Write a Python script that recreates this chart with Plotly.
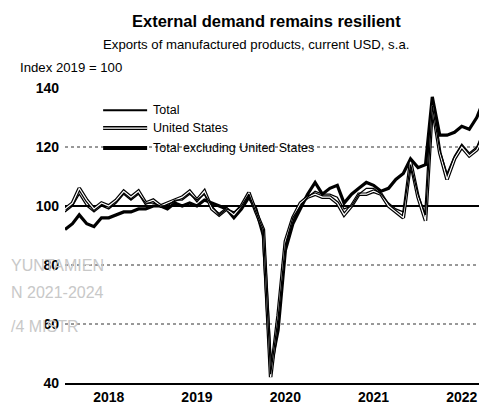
import plotly.graph_objs as go
import pandas as pd

# monthly, Jan 2018 - Oct 2022, index 2019 = 100
months = pd.date_range('2018-01-01', '2022-10-01', freq='MS')

total = [98, 100, 104, 100, 98, 100, 99, 101, 104, 102, 104, 101,
         101, 100, 100, 102, 102, 104, 102, 104, 100, 97, 99, 98,
         100, 104, 98, 92, 43, 62, 87, 96, 100, 103, 105, 104,
         104, 103, 99, 100, 104, 106, 106, 104, 101, 99, 98, 114,
         104, 97, 134, 119, 111, 117, 121, 118, 120, 126]

united_states = [99, 101, 106, 102, 99, 101, 100, 102, 105, 103, 105, 101,
                 102, 100, 101, 102, 103, 105, 102, 105, 99, 97, 99, 97,
                 100, 104.5, 98, 92, 42, 63, 88, 96, 101, 103, 104, 103,
                 103, 101, 97, 100, 104, 104, 105, 104, 100, 98, 96, 115,
                 103, 95, 134, 118, 109, 116, 120, 117, 119, 124]

total_ex_us = [92, 94, 97, 94, 93, 96, 96, 97, 98, 98, 99, 99,
               100, 100, 99, 101, 100, 101, 100, 102, 101, 100, 99, 96,
               99, 103, 99, 90, 45, 58, 85, 94, 99, 104, 108, 104,
               106, 107, 101, 104, 106, 108, 107, 105, 106, 109, 111, 116,
               113, 114, 137, 124, 124, 125, 127, 126, 130, 136]

year_ticks = ['2018-07-01', '2019-07-01', '2020-07-01', '2021-07-01', '2022-07-01']
year_labels = ['2018', '2019', '2020', '2021', '2022']
y_ticks = [40, 60, 80, 100, 120, 140]

legend_names = ['Total', 'United States', 'Total excluding United States']

FONT = 'Liberation Sans, Arial, sans-serif'

fig = go.Figure()
fig.add_trace(go.Scatter(x=months, y=total_ex_us, mode='lines',
                         line=dict(color='black', width=3.2),
                         name=legend_names[2], showlegend=False))
# double line look for the US series
fig.add_trace(go.Scatter(x=months, y=united_states, mode='lines',
                         line=dict(color='black', width=3.6),
                         name=legend_names[1], showlegend=False))
fig.add_trace(go.Scatter(x=months, y=united_states, mode='lines',
                         line=dict(color='white', width=1.2),
                         hoverinfo='skip', showlegend=False))
fig.add_trace(go.Scatter(x=months, y=total, mode='lines',
                         line=dict(color='black', width=1.3),
                         name=legend_names[0], showlegend=False))

shapes = []
# dotted grid
for v in [60, 80, 120]:
    shapes.append(dict(type='line', xref='paper', yref='y', x0=0, x1=1, y0=v, y1=v,
                       line=dict(color='#333', width=1, dash='dot'), layer='below'))
# reference line at 100
shapes.append(dict(type='line', xref='paper', yref='y', x0=0, x1=1, y0=100, y1=100,
                   line=dict(color='black', width=2.2), layer='below'))

# hand drawn legend
ly = [0.925, 0.864, 0.797]
lx0, lx1 = 0.091, 0.196
shapes.append(dict(type='line', xref='paper', yref='paper', x0=lx0, x1=lx1,
                   y0=ly[0], y1=ly[0], line=dict(color='black', width=2)))
shapes.append(dict(type='line', xref='paper', yref='paper', x0=lx0, x1=lx1,
                   y0=ly[1], y1=ly[1], line=dict(color='black', width=4)))
shapes.append(dict(type='line', xref='paper', yref='paper', x0=lx0, x1=lx1,
                   y0=ly[1], y1=ly[1], line=dict(color='white', width=1.2)))
shapes.append(dict(type='line', xref='paper', yref='paper', x0=lx0, x1=lx1,
                   y0=ly[2], y1=ly[2], line=dict(color='black', width=4)))

annotations = []
for name, y in zip(legend_names, ly):
    annotations.append(dict(text=name, xref='paper', yref='paper', x=0.206, y=y,
                            xanchor='left', yanchor='middle', showarrow=False,
                            font=dict(family=FONT, size=12.5, color='black')))

annotations += [
    dict(text='<b>External demand remains resilient</b>', xref='paper', yref='paper',
         x=0.48, y=1.227, xanchor='center', yanchor='middle', showarrow=False,
         font=dict(family=FONT, size=16.5, color='black')),
    dict(text='Exports of manufactured products, current USD, s.a.', xref='paper', yref='paper',
         x=0.455, y=1.146, xanchor='center', yanchor='middle', showarrow=False,
         font=dict(family=FONT, size=13.2, color='black')),
    dict(text='Index 2019 = 100', xref='paper', yref='paper',
         x=-0.112, y=1.071, xanchor='left', yanchor='middle', showarrow=False,
         font=dict(family=FONT, size=13.2, color='black')),
]

# faint stamp left on the scan (window px -> paper)
for txt, px, py in [('YUNTAMIEN', 9, 265), ('N 2021-2024', 9, 292), ('/4 MISTR', 9, 326)]:
    annotations.append(dict(text=txt, xref='paper', yref='paper',
                            x=(px - 65) / 419, y=(383 - py) / 295,
                            xanchor='left', yanchor='middle', showarrow=False,
                            font=dict(family=FONT, size=16, color='#c8c8c8')))

# page body keeps an 8px margin, so the figure is 8px smaller than the window
fig['layout'].update(width=479, height=401,
                     margin={'l': 57, 'r': 3, 't': 80, 'b': 26},
                     paper_bgcolor='white', plot_bgcolor='white',
                     showlegend=False,
                     shapes=shapes, annotations=annotations)
fig.update_xaxes(range=['2018-01-01', '2022-10-01'],
                 tickvals=year_ticks, ticktext=year_labels,
                 showgrid=False, zeroline=False,
                 showline=True, linecolor='black', linewidth=1.5,
                 ticks='', tickfont=dict(family=FONT, size=14, color='black', weight='bold'))
fig.update_yaxes(range=[40, 140], tickvals=y_ticks,
                 showgrid=False, zeroline=False, showline=False, ticks='',
                 ticklabelstandoff=5,
                 tickfont=dict(family=FONT, size=14, color='black', weight='bold'))

fig.write_html("out.html")
